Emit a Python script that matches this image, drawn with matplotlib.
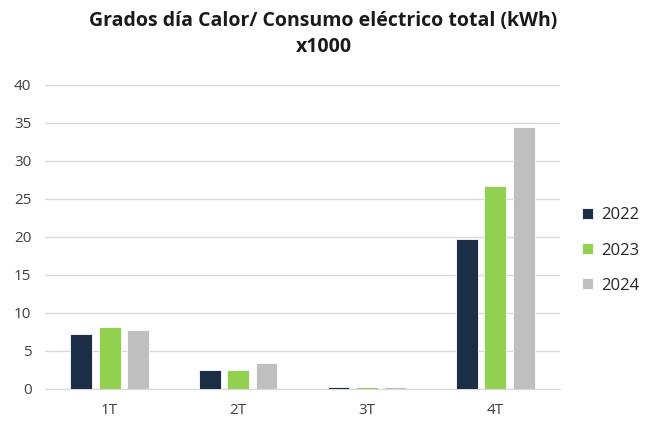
import numpy as np
import matplotlib.pyplot as plt

categories = ['1T', '2T', '3T', '4T']
years = ['2022', '2023', '2024']
v2022 = [7.2, 2.5, 0.2, 19.7]
v2023 = [8.2, 2.5, 0.3, 26.7]
v2024 = [7.8, 3.4, 0.2, 34.5]
colors = ['#1B2E45', '#92D050', '#BFBFBF']

plt.rcParams['font.family'] = ['Open Sans', 'DejaVu Sans']

fig = plt.figure(figsize=(6.47, 4.25), dpi=100)
ax = fig.add_axes([0.07, 0.085, 0.795, 0.715])

x = np.arange(len(categories))
width = 0.17
step = 0.22
for i, (vals, yr) in enumerate(zip([v2022, v2023, v2024], years)):
    ax.bar(x + (i - 1) * step, vals, width, color=colors[i], label=yr,
           edgecolor='white', linewidth=0.6, zorder=3)

ax.set_xlim(-0.5, 3.5)
ax.set_ylim(0, 40)
ax.set_yticks(range(0, 41, 5))
ax.set_xticks(x)
ax.set_xticklabels(categories)
ax.grid(axis='y', color='#D9D9D9', linewidth=1, zorder=0)
for s in ['top', 'right', 'left']:
    ax.spines[s].set_visible(False)
ax.spines['bottom'].set_color('#D9D9D9')
ax.tick_params(axis='both', length=0, labelsize=11, colors='#404040', pad=10)

fig.suptitle('Grados día Calor/ Consumo eléctrico total (kWh)\nx1000',
             x=0.5, y=0.975, fontsize=14, fontweight='bold', color='#1a1a1a',
             linespacing=1.45)

ax.legend(loc='center left', bbox_to_anchor=(1.015, 0.455), frameon=False,
          fontsize=12, handlelength=0.65, handleheight=0.65, labelspacing=1.15,
          handletextpad=0.5, labelcolor='#262626')

fig.savefig('out.png', dpi=100)
